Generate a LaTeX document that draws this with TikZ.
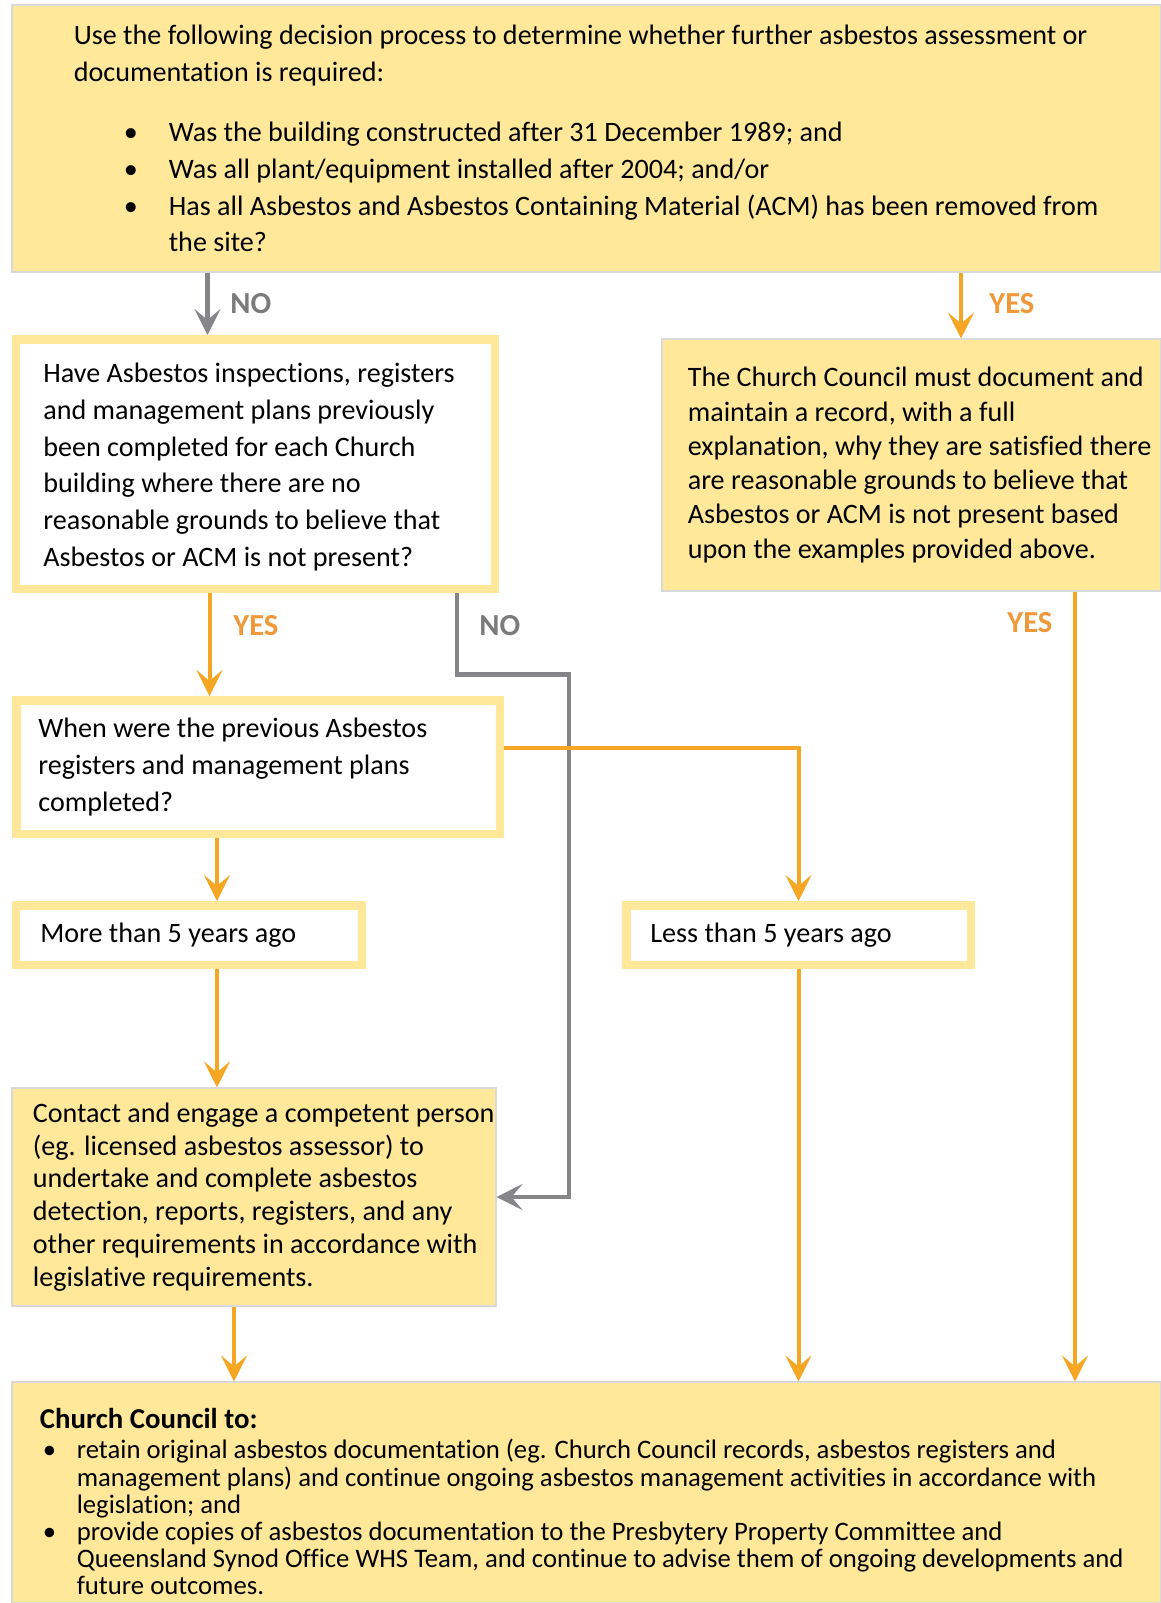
\documentclass[tikz,border=0pt]{standalone}
\usepackage{fontspec}
\setmainfont{Carlito}[Ligatures=NoCommon]
\usetikzlibrary{arrows.meta}

\definecolor{boxyellow}{HTML}{FFE899}
\definecolor{linkorange}{HTML}{F5A623}
\definecolor{yestext}{HTML}{F0993A}
\definecolor{linkgray}{HTML}{85858A}
\definecolor{notext}{HTML}{7B7B7B}

\newcommand{\topdot}{\hspace*{1cm}\makebox[0.9cm][l]{\textbullet}}
\newcommand{\lowdot}{\hspace*{0.06cm}\makebox[0.68cm][l]{\textbullet}}

\tikzset{
  fillbox/.style={fill=boxyellow, draw=black!15, line width=0.6pt, inner sep=0pt},
  framebox/.style={fill=white, draw=boxyellow, line width=0.17cm, inner sep=0pt},
  boxtext/.style={anchor=west, align=left, inner sep=0pt},
  tipstyle/.style={-{Stealth[length=0.52cm, width=0.52cm, inset=0.22cm]}},
  yesline/.style={draw=linkorange, line width=0.08cm, tipstyle},
  noline/.style={draw=linkgray, line width=0.09cm, tipstyle},
  yeslabel/.style={anchor=west, inner sep=0pt, text=yestext, font=\fontsize{17.4}{20}\selectfont\bfseries},
  nolabel/.style={anchor=west, inner sep=0pt, text=notext, font=\fontsize{17.4}{20}\selectfont\bfseries}
}

\begin{document}
\begin{tikzpicture}
\useasboundingbox (0,0) rectangle (23.22,-32.06);

% boxes
\node[fillbox, minimum width=22.98cm, minimum height=5.34cm] (top) at (11.73,-2.77) {};
\node[framebox, minimum width=9.57cm, minimum height=4.99cm] (q1) at (5.11,-9.28) {};
\node[fillbox, minimum width=9.98cm, minimum height=5.04cm] (doc) at (18.23,-9.30) {};
\node[framebox, minimum width=9.67cm, minimum height=2.67cm] (q2) at (5.16,-15.34) {};
\node[framebox, minimum width=6.91cm, minimum height=1.19cm] (more) at (3.78,-18.70) {};
\node[framebox, minimum width=6.89cm, minimum height=1.19cm] (less) at (15.97,-18.70) {};
\node[fillbox, minimum width=9.68cm, minimum height=4.36cm] (contact) at (5.08,-23.94) {};
\node[fillbox, minimum width=22.98cm, minimum height=4.42cm] (bottom) at (11.73,-29.85) {};

% texts
\node[boxtext, font=\fontsize{16}{20.9}\selectfont] (toptext) at ([xshift=1.24cm]top.west)
  {Use the following decision process to determine whether further asbestos assessment or\\
   documentation is required:\\[0.47cm]
   \topdot Was the building constructed after 31 December 1989; and\\
   \topdot Was all plant/equipment installed after 2004; and/or\\
   \topdot Has all Asbestos and Asbestos Containing Material (ACM) has been removed from\\
   \hspace*{1.9cm}the site?};
\node[boxtext, font=\fontsize{16}{20.9}\selectfont] (q1text) at ([xshift=0.62cm, yshift=-0.06cm]q1.west)
  {Have Asbestos inspections, registers\\
   and management plans previously\\
   been completed for each Church\\
   building where there are no\\
   reasonable grounds to believe that\\
   Asbestos or ACM is not present?};
\node[boxtext, font=\fontsize{16}{19.5}\selectfont] (doctext) at ([xshift=0.52cm]doc.west)
  {The Church Council must document and\\
   maintain a record, with a full\\
   explanation, why they are satisfied there\\
   are reasonable grounds to believe that\\
   Asbestos or ACM is not present based\\
   upon the examples provided above.};
\node[boxtext, font=\fontsize{16}{20.8}\selectfont] (q2text) at ([xshift=0.52cm]q2.west)
  {When were the previous Asbestos\\
   registers and management plans\\
   completed?};
\node[boxtext, font=\fontsize{16}{20}\selectfont] (moretext) at ([xshift=0.56cm]more.west) {More than 5 years ago};
\node[boxtext, font=\fontsize{16}{20}\selectfont] (lesstext) at ([xshift=0.56cm]less.west) {Less than 5 years ago};
\node[boxtext, font=\fontsize{16}{18.7}\selectfont] (contacttext) at ([xshift=0.42cm]contact.west)
  {Contact and engage a competent person\\
   (eg. licensed asbestos assessor) to\\
   undertake and complete asbestos\\
   detection, reports, registers, and any\\
   other requirements in accordance with\\
   legislative requirements.};
\node[boxtext, font=\fontsize{15.2}{15.5}\selectfont] (bottomtext) at ([xshift=0.56cm, yshift=-0.18cm]bottom.west)
  {{\fontsize{16.4}{18}\selectfont\bfseries Church Council to:}\\[2pt]
   \lowdot retain original asbestos documentation (eg. Church Council records, asbestos registers and\\
   \hspace*{0.74cm}management plans) and continue ongoing asbestos management activities in accordance with\\
   \hspace*{0.74cm}legislation; and\\
   \lowdot provide copies of asbestos documentation to the Presbytery Property Committee and\\
   \hspace*{0.74cm}Queensland Synod Office WHS Team, and continue to advise them of ongoing developments and\\
   \hspace*{0.74cm}future outcomes.};

% labels
\node[nolabel] (no1) at (4.6,-6.07) {NO};
\node[yeslabel] (yes1) at (19.78,-6.07) {YES};
\node[yeslabel] (yes2) at (4.66,-12.52) {YES};
\node[nolabel] (no2) at (9.58,-12.52) {NO};
\node[yeslabel] (yes3) at (20.14,-12.46) {YES};

% connectors
\coordinate (noA) at (4.15,0);
\coordinate (yesA) at (19.22,0);
\coordinate (yesB) at (4.19,0);
\coordinate (nobend) at (9.14,-13.49);
\coordinate (nocorner) at (11.38,-13.49);
\coordinate (lessbend) at (15.97,-14.96);
\coordinate (moreA) at (4.34,0);
\coordinate (contactA) at (4.68,0);
\coordinate (docA) at (21.5,0);

\draw[noline] (top.south -| noA) -- (q1.north -| noA);
\draw[noline] (q1.south -| nobend) -- (nobend) -- (nocorner) |- (contact.east);
\draw[yesline] (top.south -| yesA) -- (doc.north -| yesA);
\draw[yesline] (q1.south -| yesB) -- (q2.north -| yesB);
\draw[yesline] (q2.east |- lessbend) -| (less.north);
\draw[yesline] (q2.south -| moreA) -- (more.north -| moreA);
\draw[yesline] (more.south -| moreA) -- (contact.north -| moreA);
\draw[yesline] (contact.south -| contactA) -- (bottom.north -| contactA);
\draw[yesline] (less.south) -- (bottom.north -| less.south);
\draw[yesline] (doc.south -| docA) -- (bottom.north -| docA);
\end{tikzpicture}
\end{document}
